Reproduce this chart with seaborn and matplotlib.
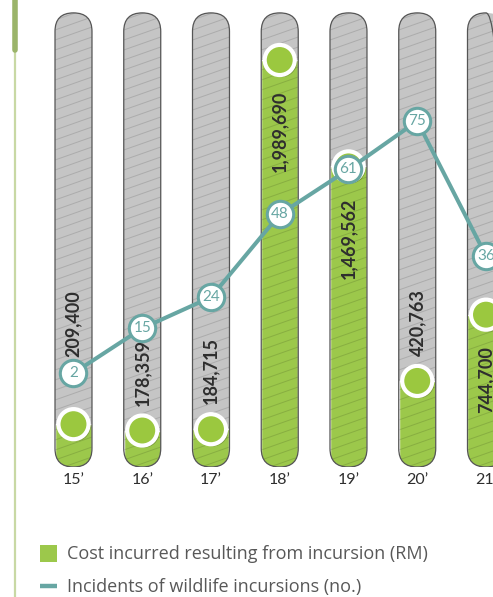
import numpy as np
import pandas as pd
import matplotlib
matplotlib.use("Agg")
import matplotlib.pyplot as plt
import matplotlib.patheffects as pe
import seaborn as sns
from matplotlib.patches import FancyBboxPatch, BoxStyle, Rectangle
from matplotlib.lines import Line2D
from matplotlib.collections import LineCollection

# ---- data -------------------------------------------------------------
years = ["15’", "16’", "17’", "18’", "19’", "20’", "21’"]
cost_rm = [209400, 178359, 184715, 1989690, 1469562, 420763, 744700]
incidents = [2, 15, 24, 48, 61, 75, 36]

legend_cost = "Cost incurred resulting from incursion (RM)"
legend_inc = "Incidents of wildlife incursions (no.)"

# ---- style ------------------------------------------------------------
green = "#9cc84b"
green_dot = "#9bc83f"
track_gray = "#c5c5c5"
outline = "#555555"
teal = "#67a6a3"
ink = "#2e2e2e"
legend_ink = "#585858"

sns.set_theme(style="white")
plt.rcParams["font.family"] = ["Lato", "DejaVu Sans"]

W, H = 493, 597
fig = plt.figure(figsize=(W / 100, H / 100), dpi=100)
fig.patch.set_facecolor("white")

base_px = 467                       # baseline of the tracks, from the top
ax = fig.add_axes([0, 1 - base_px / H, 1, base_px / H])

df = pd.DataFrame({"year": years, "cost": cost_rm,
                   "incidents": incidents, "pos": np.arange(len(years))})

bar_w = 0.538
xlim = (-1.069, 6.102)
ylim = (0, 2.283e6)
track_top = 2.22e6                  # full height of each capsule track
inc_lim = (-25.2, 110.1)

sns.barplot(data=df, x="year", y="cost", ax=ax, color=green,
            saturation=1, width=bar_w, zorder=2)
bars = list(ax.patches)
ax.set_xlim(*xlim)
ax.set_ylim(*ylim)

px_per_x = W / (xlim[1] - xlim[0])
cost_per_px = (ylim[1] - ylim[0]) / base_px
asp = cost_per_px * px_per_x

rise = 13 * cost_per_px
step = 10 * cost_per_px
for i, bar in enumerate(bars):
    style = BoxStyle("Round", pad=0, rounding_size=bar_w / 2)
    track = FancyBboxPatch((i - bar_w / 2, 0), bar_w, track_top,
                           boxstyle=style, mutation_aspect=asp,
                           fc=track_gray, ec="none", zorder=1)
    ax.add_patch(track)
    bar.set_clip_path(track)

    ys = np.arange(-rise, track_top + step, step)
    segs = [[(i - bar_w / 2, y), (i + bar_w / 2, y + rise)] for y in ys]
    lc = LineCollection(segs, colors="#000000", alpha=0.13,
                        linewidths=0.7, zorder=3)
    ax.add_collection(lc, autolim=False)
    lc.set_clip_path(track)

    edge = FancyBboxPatch((i - bar_w / 2, 0), bar_w, track_top,
                          boxstyle=style, mutation_aspect=asp,
                          fill=False, ec=outline, lw=0.9, zorder=4)
    ax.add_patch(edge)

# level markers at the top of each cost bar
ax.scatter(df["pos"], df["cost"], s=470, c=green_dot, edgecolors="white",
           linewidths=3.0, zorder=5,
           path_effects=[pe.SimplePatchShadow(offset=(1.5, -1.5),
                                              shadow_rgbFace="black",
                                              alpha=0.22),
                         pe.Normal()])

# value labels along the tracks
max_cost = max(cost_rm)
inc_span = inc_lim[1] - inc_lim[0]
for i, (c, n) in enumerate(zip(cost_rm, incidents)):
    label = f"{c:,}"
    circ_px = c / cost_per_px
    if c > 0.3 * max_cost:
        ax.annotate(label, xy=(i, c), xytext=(0, -31 * 0.72),
                    textcoords="offset points", rotation=90,
                    ha="center", va="top", fontsize=13,
                    fontweight="bold", color=ink, zorder=6)
    else:
        mark_px = (n - inc_lim[0]) / inc_span * base_px
        lo = circ_px + 25
        if lo - 14 < mark_px < lo + 60:
            lo = mark_px + 16
        ax.annotate(label, xy=(i, c), xytext=(0, (lo - circ_px) * 0.72),
                    textcoords="offset points", rotation=90,
                    ha="center", va="bottom", fontsize=13,
                    fontweight="bold", color=ink, zorder=6)

ax.set_xticks(range(len(years)))
ax.set_xticklabels(years)
ax.tick_params(axis="x", length=0, pad=4, labelsize=11.5, labelcolor=ink)
ax.set_yticks([])
ax.set_xlabel("")
ax.set_ylabel("")
sns.despine(ax=ax, left=True, bottom=True)

# incidents line on its own scale
ax2 = ax.twinx()
sns.lineplot(data=df, x="pos", y="incidents", ax=ax2, color=teal,
             linewidth=2.9, marker="o", markersize=19,
             markerfacecolor="white", markeredgecolor=teal,
             markeredgewidth=2.2, zorder=6)
for i, n in enumerate(incidents):
    ax2.text(i, n, str(n), ha="center", va="center", color=teal,
             fontsize=11, zorder=7)
ax2.set_ylim(*inc_lim)
ax2.set_axis_off()
ax.set_xlim(*xlim)
ax.set_ylim(*ylim)

# left rule
fig.add_artist(Line2D([14.5 / W] * 2, [0, 1], transform=fig.transFigure,
                      color="#c8d8a4", lw=1.6))
fig.add_artist(Line2D([14.5 / W] * 2, [1, 1 - 50 / H],
                      transform=fig.transFigure, color="#9bb46a", lw=4,
                      solid_capstyle="round"))

# legend
fig.add_artist(Rectangle((40 / W, 1 - 562 / H), 17 / W, 17 / H,
                         transform=fig.transFigure, color=green, lw=0))
fig.text(67 / W, 1 - 554 / H, legend_cost, ha="left", va="center",
         fontsize=13, color=legend_ink, family=["Open Sans", "DejaVu Sans"])
fig.add_artist(Line2D([40 / W, 57 / W], [1 - 586 / H] * 2,
                      transform=fig.transFigure, color=teal, lw=3.2,
                      solid_capstyle="butt"))
fig.text(67 / W, 1 - 587 / H, legend_inc, ha="left", va="center",
         fontsize=13, color=legend_ink, family=["Open Sans", "DejaVu Sans"])

fig.savefig("out.png", dpi=100, facecolor="white")
